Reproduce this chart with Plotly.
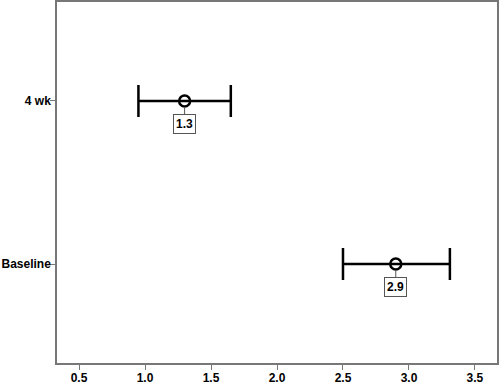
import plotly.graph_objects as go

categories = ["Baseline", "4 wk"]
means = [2.9, 1.3]
ci_low = [2.5, 0.95]
ci_high = [3.31, 1.65]
labels = ["2.9", "1.3"]
xticks = [0.5, 1.0, 1.5, 2.0, 2.5, 3.0, 3.5]

fig = go.Figure()
fig.add_trace(go.Scatter(
    x=means, y=categories, mode="markers",
    marker=dict(symbol="circle-open", size=11, color="black", line=dict(width=2.5, color="black")),
    error_x=dict(type="data", symmetric=False,
                 array=[h - m for h, m in zip(ci_high, means)],
                 arrayminus=[m - l for m, l in zip(means, ci_low)],
                 color="black", thickness=2.5, width=16),
    showlegend=False,
))
for x, y, t in zip(means, categories, labels):
    fig.add_annotation(x=x, y=y, text="<b>" + t + "</b>", showarrow=True, arrowhead=0,
                       arrowwidth=1, arrowcolor="#555", ax=0, ay=23, standoff=6,
                       bordercolor="#555", borderwidth=1, borderpad=2, bgcolor="white",
                       font=dict(family="Liberation Sans, Arial", size=12, color="black"))

axis_common = dict(showline=True, linecolor="#777", linewidth=1.5, mirror=True, automargin=False,
                   ticks="outside", ticklen=5, tickcolor="#777", showgrid=False, zeroline=False,
                   tickfont=dict(family="Liberation Sans, Arial", size=12, color="black", weight="bold"))
fig.update_xaxes(range=[0.333, 3.667], tickvals=xticks, ticktext=[f"{v:.1f}" for v in xticks],
                 ticklabelstandoff=-2, **axis_common)
fig.update_yaxes(type="category", categoryorder="array", categoryarray=categories,
                 range=[-0.607, 1.607], ticklabelstandoff=-3, **axis_common)
fig.update_layout(width=500, height=384, margin=dict(l=57, r=3, t=2, b=21),
                  plot_bgcolor="white", paper_bgcolor="white")
fig.write_html("out.html")
